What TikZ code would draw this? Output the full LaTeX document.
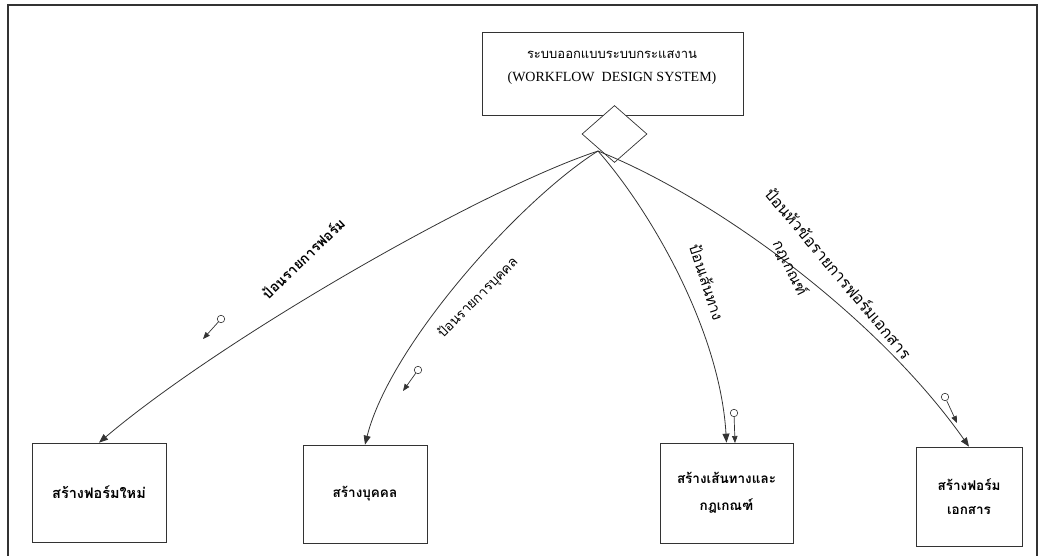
\documentclass[tikz,border=0pt]{standalone}
\usepackage{fontspec}
\setmainfont{Liberation Serif}
\newfontfamily\thai[Script=Thai]{Loma}
\usetikzlibrary{arrows.meta,shapes.geometric}
\definecolor{ink}{HTML}{333333}
\begin{document}
\begin{tikzpicture}[x=1pt,y=-1pt,
  frame/.style={draw=ink,line width=1.8pt},
  box/.style={draw=ink,line width=0.7pt,rectangle,inner sep=0pt,align=center},
  boxtext/.style={font=\thai\bfseries\fontsize{13.5}{16}\selectfont},
  flow/.style={draw=ink,line width=0.8pt,-{Triangle[length=9pt,width=7pt]}},
  lbl/.style={font=\thai\fontsize{13}{16}\selectfont,inner sep=0pt},
  tok/.style={circle,draw=ink,line width=0.6pt,fill=white,minimum size=7.5pt,inner sep=0pt},
  tokarrow/.style={draw=ink,line width=0.7pt,-{Triangle[length=7pt,width=5.5pt]}}]
\useasboundingbox (0,0) rectangle (1042,555);
% page frame, open at the bottom
\draw[frame] (8,570) -- (8,5) -- (1037,5) -- (1037,570);

% top system box, its title and the diamond below it
\node[box,minimum width=261pt,minimum height=83pt] (sys) at (612.5,73.5) {};
\node[align=center,inner sep=0pt] (systitle) at (612,68)
  {\thai\fontsize{13}{16}\selectfont ระบบออกแบบระบบกระแสงาน\\[11pt]
   \fontsize{14}{16}\selectfont (WORKFLOW\ \ DESIGN SYSTEM)};
\node[draw=ink,line width=0.7pt,fill=white,diamond,minimum width=65pt,minimum height=57pt,inner sep=0pt] (dia) at (614.5,134) {};
\coordinate (src) at (598,151);

% sub-process boxes
\node[box,boxtext,font=\thai\bfseries\fontsize{14.5}{16}\selectfont,minimum width=134pt,minimum height=99pt] (b1) at (99,492.5) {สร้างฟอร์มใหม่};
\node[box,boxtext,minimum width=124pt,minimum height=98pt] (b2) at (365,494) {สร้างบุคคล};
\node[box,boxtext,minimum width=133pt,minimum height=100pt] (b3) at (726.5,493) {สร้างเส้นทางและ\\[11pt]กฎเกณฑ์};
\node[box,boxtext,minimum width=106pt,minimum height=99pt] (b4) at (969,496.5) {สร้างฟอร์ม\\[8pt]เอกสาร};

% flows from the diamond
\draw[flow] (src) .. controls (480,190) and (220,340) .. (b1.north);
\draw[flow] (src) .. controls (520,200) and (390,345) .. (b2.north);
\draw[flow] (src) .. controls (650,210) and (720,330) .. (b3.north);
\draw[flow] (src) .. controls (720,200) and (880,320) .. (b4.north);

% flow labels
\node[lbl,font=\thai\bfseries\fontsize{14}{16}\selectfont,rotate=44] (l1) at (303,258) {ป้อนรายการฟอร์ม};
\node[lbl,font=\thai\fontsize{13.5}{16}\selectfont,rotate=45] (l2) at (478,298) {ป้อนรายการบุคคล};
\node[lbl,font=\thai\fontsize{15}{16}\selectfont,rotate=-72] (l3) at (707,282) {ป้อนเส้นทาง};
\node[lbl,font=\thai\fontsize{16}{16}\selectfont,rotate=-50] (l4a) at (839,273) {ป้อนหัวข้อรายการฟอร์มเอกสาร};
\node[lbl,font=\thai\fontsize{15}{16}\selectfont,rotate=-64] (l4b) at (790,268) {กฎเกณฑ์};

% data tokens travelling on each flow
\node[tok] (t1) at (221,319) {};
\coordinate (e1) at (203,339);
\draw[tokarrow] (t1) -- (e1);
\node[tok] (t2) at (418,370) {};
\coordinate (e2) at (403,391);
\draw[tokarrow] (t2) -- (e2);
\node[tok] (t3) at (734,413) {};
\coordinate (e3) at (735,443);
\draw[tokarrow] (t3) -- (e3);
\node[tok] (t4) at (945,397) {};
\coordinate (e4) at (957,423);
\draw[tokarrow] (t4) -- (e4);
\end{tikzpicture}
\end{document}
